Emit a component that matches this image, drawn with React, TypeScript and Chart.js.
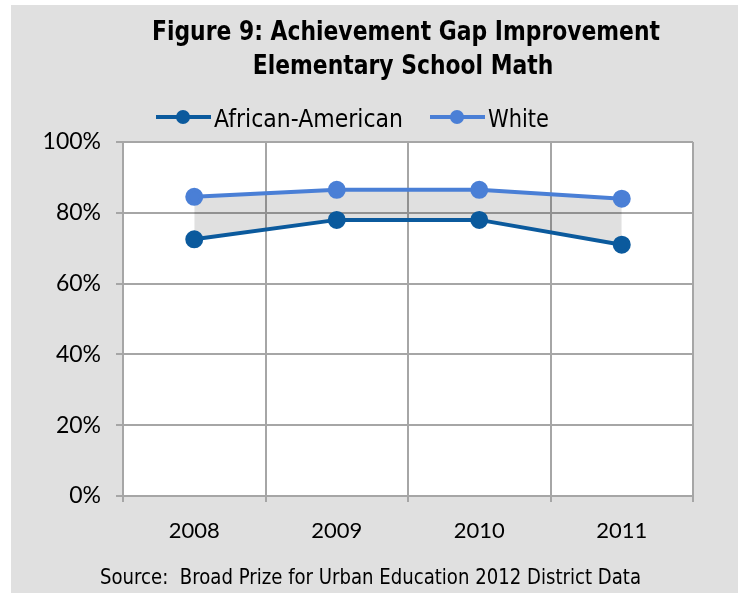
import React, { useEffect, useRef } from "react";
import { Chart, registerables } from "chart.js";

Chart.register(...registerables);

const categories = ["2008", "2009", "2010", "2011"];
const africanAmerican = [72.5, 78, 78, 71];
const white = [84.5, 86.5, 86.5, 84];
const yTickValues = [0, 20, 40, 60, 80, 100];
const seriesLabels = ["African-American", "White"];
const titleLines = ["Figure 9: Achievement Gap Improvement", "Elementary School Math"];
const sourceText = "Source:  Broad Prize for Urban Education 2012 District Data";

const AA_COLOR = "#0b5a9d";
const WHITE_COLOR = "#4a7fd6";
const GRID = "#a6a6a6";
const SANS = '"DejaVu Sans", sans-serif';
const TICKFONT = 'Lato, "Open Sans", sans-serif';

export default function App() {
  const ref = useRef<HTMLCanvasElement | null>(null);

  useEffect(() => {
    document.body.style.margin = "0";
    const canvas = ref.current;
    if (!canvas) return;

    const drawScaled = (ctx: any, text: string, x: number, y: number, sx: number, align: string) => {
      ctx.save();
      ctx.translate(x, y);
      ctx.scale(sx, 1);
      ctx.textAlign = align;
      ctx.fillText(text, 0, 0);
      ctx.restore();
    };

    const decor = {
      id: "decor",
      beforeDraw(chart: any) {
        const { ctx, chartArea } = chart;
        ctx.save();
        ctx.fillStyle = "#ffffff";
        ctx.fillRect(chartArea.left, chartArea.top, chartArea.right - chartArea.left, chartArea.bottom - chartArea.top);
        ctx.restore();
      },
      afterDraw(chart: any) {
        const ctx = chart.ctx;
        ctx.save();
        ctx.fillStyle = "#000";
        ctx.textBaseline = "middle";

        // title
        ctx.font = `bold 27px ${SANS}`;
        const tsx = 508 / ctx.measureText(titleLines[0]).width;
        drawScaled(ctx, titleLines[0], 395, 28, tsx, "center");
        drawScaled(ctx, titleLines[1], 392, 62, tsx, "center");

        // legend
        const drawItem = (x0: number, x1: number, cx: number, tx: number, tw: number, color: string, label: string) => {
          ctx.strokeStyle = color;
          ctx.lineWidth = 4;
          ctx.beginPath();
          ctx.moveTo(x0, 112);
          ctx.lineTo(x1, 112);
          ctx.stroke();
          ctx.fillStyle = color;
          ctx.beginPath();
          ctx.arc(cx, 112, 7, 0, Math.PI * 2);
          ctx.fill();
          ctx.fillStyle = "#000";
          ctx.font = `24px ${SANS}`;
          const sx = tw / ctx.measureText(label).width;
          drawScaled(ctx, label, tx, 116, sx, "left");
        };
        drawItem(145, 200, 172, 203, 189, AA_COLOR, seriesLabels[0]);
        drawItem(419, 474, 446, 477, 61, WHITE_COLOR, seriesLabels[1]);

        // source
        ctx.fillStyle = "#000";
        ctx.font = `21px ${SANS}`;
        const ssx = 541 / ctx.measureText(sourceText).width;
        drawScaled(ctx, sourceText, 89, 574, ssx, "left");
        ctx.restore();
      },
    };

    const chart = new Chart(canvas, {
      type: "line",
      data: {
        labels: categories,
        datasets: [
          {
            label: seriesLabels[0],
            data: africanAmerican,
            borderColor: AA_COLOR,
            backgroundColor: AA_COLOR,
            pointBackgroundColor: AA_COLOR,
            pointBorderColor: AA_COLOR,
            pointRadius: 7,
            borderWidth: 4,
            fill: false,
          },
          {
            label: seriesLabels[1],
            data: white,
            borderColor: WHITE_COLOR,
            backgroundColor: "rgba(0,0,0,0.12)",
            pointBackgroundColor: WHITE_COLOR,
            pointBorderColor: WHITE_COLOR,
            pointRadius: 7,
            borderWidth: 4,
            fill: { target: 0 },
          },
        ],
      },
      options: {
        responsive: false,
        animation: false,
        layout: { padding: { left: 0, top: 137, right: 45, bottom: 0 } },
        plugins: {
          legend: { display: false },
          title: { display: false },
          tooltip: { enabled: false },
        },
        scales: {
          x: {
            type: "category",
            offset: true,
            grid: { offset: true, color: GRID, lineWidth: 2, tickLength: 6, tickColor: GRID },
            border: { color: GRID, width: 2 },
            ticks: { color: "#000", font: { family: TICKFONT, size: 22 }, padding: 16 },
            afterFit: (s: any) => {
              s.height = 97;
            },
          },
          y: {
            min: 0,
            max: 100,
            afterBuildTicks: (s: any) => {
              s.ticks = yTickValues.map((v) => ({ value: v }));
            },
            grid: { color: GRID, lineWidth: 2, tickLength: 7, tickColor: GRID },
            border: { color: GRID, width: 2 },
            ticks: {
              color: "#000",
              font: { family: TICKFONT, size: 23 },
              padding: 15,
              callback: (v: any) => `${v}%`,
            },
            afterFit: (s: any) => {
              s.width = 112;
            },
          },
        },
      },
      plugins: [decor],
    });

    return () => chart.destroy();
  }, []);

  return (
    <div style={{ position: "fixed", left: 0, top: 0, width: 738, height: 593, background: "#ffffff" }}>
      <div style={{ position: "absolute", left: 11, top: 5, width: 727, height: 588, background: "#e0e0e0" }}>
        <canvas ref={ref} width={727} height={588} style={{ display: "block", width: 727, height: 588 }} />
      </div>
    </div>
  );
}
